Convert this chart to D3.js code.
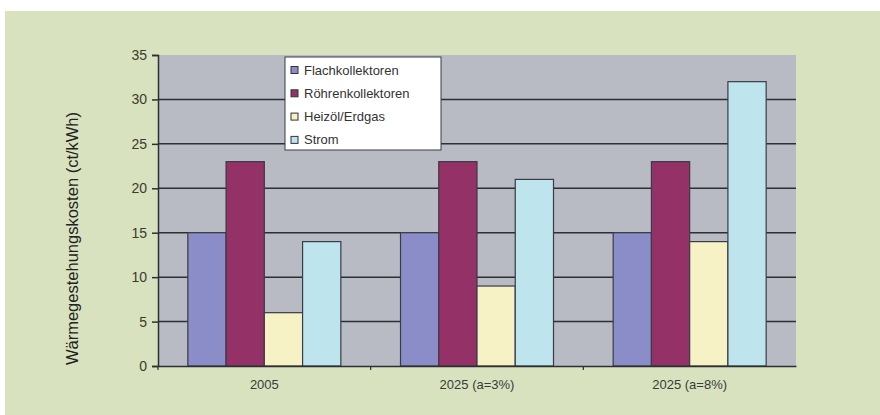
<!DOCTYPE html>
<html>
<head>
<meta charset="utf-8">
<script src="https://cdn.jsdelivr.net/npm/d3@7"></script>
<style>
  html, body { margin: 0; padding: 0; background: #ffffff; }
  svg { display: block; }
  text { font-family: Arial, "Liberation Sans", sans-serif; }
</style>
</head>
<body>
<svg id="chart" width="880" height="415"></svg>
<script>
// Heat generation cost by technology and scenario (ct/kWh)
const categories = ["2005", "2025 (a=3%)", "2025 (a=8%)"];
const seriesNames = ["Flachkollektoren", "Röhrenkollektoren", "Heizöl/Erdgas", "Strom"];
const flachkollektoren = [15, 15, 15];
const roehrenkollektoren = [23, 23, 23];
const heizoelErdgas = [6, 9, 14];
const strom = [14, 21, 32];
const yTicks = [0, 5, 10, 15, 20, 25, 30, 35];
const yTitle = "Wärmegestehungskosten (ct/kWh)";

const seriesValues = [flachkollektoren, roehrenkollektoren, heizoelErdgas, strom];
const colors = ["#8a8dc8", "#943268", "#f6f2c6", "#bee5ee"];

const svg = d3.select("#chart");

// green panel
svg.append("rect").attr("x", 5).attr("y", 11).attr("width", 875).attr("height", 404)
  .attr("fill", "#d9e2bf");

const plot = { left: 158, right: 796, top: 55, bottom: 366 };

const x0 = d3.scaleBand().domain(categories).range([plot.left, plot.right]).paddingInner(0).paddingOuter(0);
const x1 = d3.scaleBand().domain(d3.range(seriesNames.length))
  .range([0, x0.bandwidth()]).paddingOuter(0.78).paddingInner(0);
const y = d3.scaleLinear().domain([0, 35]).range([plot.bottom, plot.top]);

// plot background
svg.append("rect").attr("x", plot.left).attr("y", plot.top)
  .attr("width", plot.right - plot.left).attr("height", plot.bottom - plot.top)
  .attr("fill", "#b8bbc3");

// gridlines
svg.append("g").selectAll("line").data(yTicks.filter(t => t > 0 && t < 35)).join("line")
  .attr("x1", plot.left).attr("x2", plot.right)
  .attr("y1", d => y(d)).attr("y2", d => y(d))
  .attr("stroke", "#2e2f33").attr("stroke-width", 1.5);

// bars
const groups = svg.append("g").selectAll("g").data(categories).join("g")
  .attr("transform", d => `translate(${x0(d)},0)`);
groups.selectAll("rect")
  .data((d, i) => seriesValues.map((vals, s) => ({ s, v: vals[i] })))
  .join("rect")
  .attr("x", d => x1(d.s))
  .attr("y", d => y(d.v))
  .attr("width", x1.bandwidth())
  .attr("height", d => y(0) - y(d.v))
  .attr("fill", d => colors[d.s])
  .attr("stroke", "#3a3b44").attr("stroke-width", 1.2);

// y axis
const yAxis = svg.append("g").attr("transform", `translate(${plot.left},0)`)
  .call(d3.axisLeft(y).tickValues(yTicks).tickSize(6).tickPadding(5));
yAxis.select(".domain").attr("stroke", "#2e2f33").attr("stroke-width", 1.5);
yAxis.selectAll(".tick line").attr("stroke", "#2e2f33").attr("stroke-width", 1.5);
yAxis.selectAll(".tick text").attr("fill", "#3a3a2e").style("font-size", "14px")
  .style("font-family", "Arial, 'Liberation Sans', sans-serif");

// x axis
const xAxis = svg.append("g").attr("transform", `translate(0,${plot.bottom})`)
  .call(d3.axisBottom(x0).tickSize(0).tickPadding(14));
xAxis.select(".domain").attr("stroke", "#2e2f33").attr("stroke-width", 1.5);
xAxis.selectAll(".tick text").attr("fill", "#3a3a36").style("font-size", "13px")
  .style("font-family", "Arial, 'Liberation Sans', sans-serif");
// category separators on the x axis
svg.append("g").selectAll("line").data(categories).join("line")
  .attr("x1", d => x0(d)).attr("x2", d => x0(d))
  .attr("y1", plot.bottom).attr("y2", plot.bottom + 4)
  .attr("stroke", "#2e2f33").attr("stroke-width", 1.2);

// y axis title
svg.append("text")
  .attr("transform", `translate(78,${(107 + 370) / 2}) rotate(-90)`)
  .attr("text-anchor", "middle")
  .attr("fill", "#222")
  .style("font-size", "16.5px")
  .text(yTitle);

// legend
const lg = svg.append("g").attr("transform", "translate(285,57)");
lg.append("rect").attr("width", 156).attr("height", 93)
  .attr("fill", "#ffffff").attr("stroke", "#3a3b44").attr("stroke-width", 1);
const items = lg.selectAll("g.item").data(seriesNames).join("g").attr("class", "item")
  .attr("transform", (d, i) => `translate(0,${13 + i * 23.3})`);
items.append("rect").attr("x", 6).attr("y", -3.5).attr("width", 7).attr("height", 7)
  .attr("fill", (d, i) => colors[i]).attr("stroke", "#333").attr("stroke-width", 1);
items.append("text").attr("x", 19).attr("y", 0).attr("dy", "0.35em")
  .attr("fill", "#333").style("font-size", "13px").text(d => d);
</script>
</body>
</html>
